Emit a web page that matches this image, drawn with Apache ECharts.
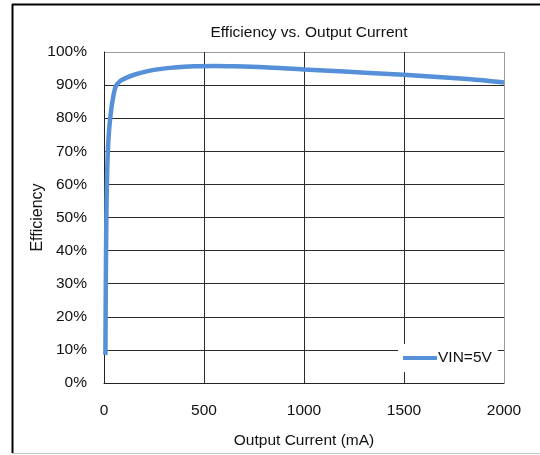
<!DOCTYPE html>
<html><head><meta charset="utf-8">
<script src="https://cdn.jsdelivr.net/npm/echarts@6/dist/echarts.min.js"></script>
<style>html,body{margin:0;padding:0;background:#fff}#c{width:540px;height:455px}</style>
</head><body><div id="c"></div>
<script>
const currentMA = [7, 9, 11, 13, 16, 20, 25, 32, 42, 58, 80, 110, 155, 250, 350, 450, 550, 650, 800, 1000, 1200, 1500, 1800, 2000];
const efficiency = [8.5, 30, 45, 55, 64, 71, 76, 80.5, 85, 89.5, 91.2, 92.2, 93.2, 94.6, 95.3, 95.7, 95.8, 95.7, 95.4, 94.7, 94.1, 93.1, 91.9, 90.8];
const seriesName = 'VIN=5V';
const titleText = 'Efficiency vs. Output Current';
const xName = 'Output Current (mA)';
const yName = 'Efficiency';

const data = currentMA.map((x, i) => [x, efficiency[i]]);
const font = 'Liberation Sans, Arial, sans-serif';
const fs = 15.5;
const chart = echarts.init(document.getElementById('c'), null, {renderer: 'canvas'});
const ySplitColors = Array.from({length: 11}, (_, i) => i === 10 ? '#9a9a9a' : '#2a2a2a');
const xSplitColors = Array.from({length: 5}, (_, i) => i === 4 ? '#9a9a9a' : '#2a2a2a');
chart.setOption({
  animation: false,
  backgroundColor: '#fff',
  title: {text: titleText, left: 304, textAlign: 'center', top: 20,
    textStyle: {fontFamily: font, fontSize: fs, fontWeight: 'normal', color: '#111'}},
  grid: {left: 104, top: 52, width: 400, height: 331, show: false},
  legend: {
    data: [seriesName], left: 398, top: 344, padding: [6, 6, 6, 5],
    backgroundColor: '#fff', icon: 'rect', itemWidth: 34, itemHeight: 4, itemGap: 0,
    textStyle: {fontFamily: font, fontSize: fs, color: '#111', padding: [0, 0, 0, -4]}
  },
  xAxis: {
    type: 'value', min: 0, max: 2000, interval: 500,
    name: xName, nameLocation: 'middle', nameGap: 50, nameMoveOverlap: false,
    nameTextStyle: {fontFamily: font, fontSize: fs, color: '#111'},
    axisLine: {show: true, lineStyle: {color: '#222', width: 1}},
    axisTick: {show: false},
    axisLabel: {fontFamily: font, fontSize: fs, color: '#111', margin: 20, formatter: v => String(v)},
    splitLine: {show: true, lineStyle: {color: xSplitColors, width: 1}}
  },
  yAxis: {
    type: 'value', min: 0, max: 100, interval: 10,
    name: yName, nameLocation: 'middle', nameGap: 58, nameRotate: 90, nameMoveOverlap: false,
    nameTextStyle: {fontFamily: font, fontSize: 16, color: '#111'},
    axisLine: {show: true, lineStyle: {color: '#222', width: 1}},
    axisTick: {show: false},
    axisLabel: {fontFamily: font, fontSize: fs, color: '#111', margin: 17, formatter: '{value}%'},
    splitLine: {show: true, lineStyle: {color: ySplitColors, width: 1}}
  },
  graphic: [
    {type: 'line', shape: {x1: 12, y1: 4.5, x2: 540, y2: 4.5}, style: {stroke: '#000', lineWidth: 2}},
    {type: 'line', shape: {x1: 12.5, y1: 4, x2: 12.5, y2: 453}, style: {stroke: '#000', lineWidth: 2}},
    {type: 'line', shape: {x1: 12, y1: 453.5, x2: 540, y2: 453.5}, style: {stroke: '#c8c8c8', lineWidth: 1}}
  ],
  series: [{
    name: seriesName, type: 'line', data: data, smooth: 0.3, showSymbol: false,
    lineStyle: {color: '#5590d8', width: 4.5}, itemStyle: {color: '#5590d8'}
  }]
});
</script></body></html>
